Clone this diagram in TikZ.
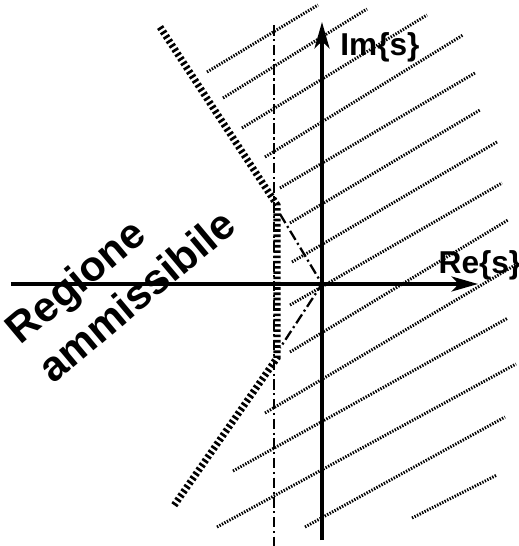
\documentclass[tikz,border=0pt]{standalone}
\usepackage{fontspec}
\setmainfont{Liberation Sans}
\usetikzlibrary{arrows.meta}

\begin{document}
\begin{tikzpicture}[x=0.02cm,y=0.02cm,
  axis/.style={line width=2.1pt,-{Stealth[length=15pt,width=8.5pt,inset=4pt]}},
  hatch/.style={line width=1.7pt,dash pattern=on 0.8pt off 0.8pt},
  border/.style={line width=4pt,dash pattern=on 1.5pt off 1.5pt},
  guide/.style={line width=1.3pt,dash pattern=on 6pt off 2pt on 1.2pt off 2pt},
  lbl/.style={font=\fontsize{18}{21}\selectfont\bfseries}]
\useasboundingbox (-322,-262) rectangle (197,284);
% hatching of the forbidden part of the plane
\foreach \xa/\ya/\xb/\yb in {-115/212/-4/279, -99/186/45/275, -80/156/105/269,
    -57/127/141/249, -42/96/153/211, -32/61/158/174, -30/22/175/142,
    -32/-21/180/101, -32/-68/186/64, -57/-129/195/20, -89/-187/186/-34,
    -105/-243/194/-80, -17/-243/183/-133, 90/-234/175/-191}
  \draw[hatch] (\xa,\ya) -- (\xb,\yb);
% guide lines
\coordinate (O) at (0,0);
\coordinate (gt) at (-48,259);
\coordinate (gb) at (-48,-262);
\coordinate (ct) at (-42,70);
\coordinate (cb) at (-42,-64);
\draw[guide] (gt) -- (gb);
\draw[guide] (ct) -- (O) -- (cb);
% border of the admissible region
\coordinate (b1) at (-162,257);
\coordinate (b2) at (-45,79);
\coordinate (b3) at (-45,-74);
\coordinate (b4) at (-149,-223);
\draw[border] (b1) -- (b2) -- (b3) -- (b4);
% axes
\coordinate (xl) at (-311,0);
\coordinate (xr) at (156,0);
\coordinate (yb) at (0,-256);
\coordinate (yt) at (0,262);
\draw[axis] (xl) -- (xr);
\draw[axis] (yb) -- (yt);
\node[lbl] (im) at (58,237) {Im\{s\}};
\node[lbl] (re) at (158,19) {Re\{s\}};
\node[rotate=40,align=left,font=\fontsize{24}{29}\selectfont\bfseries] (reg) at (-202,8) {Regione\\ammissibile};
\end{tikzpicture}
\end{document}
